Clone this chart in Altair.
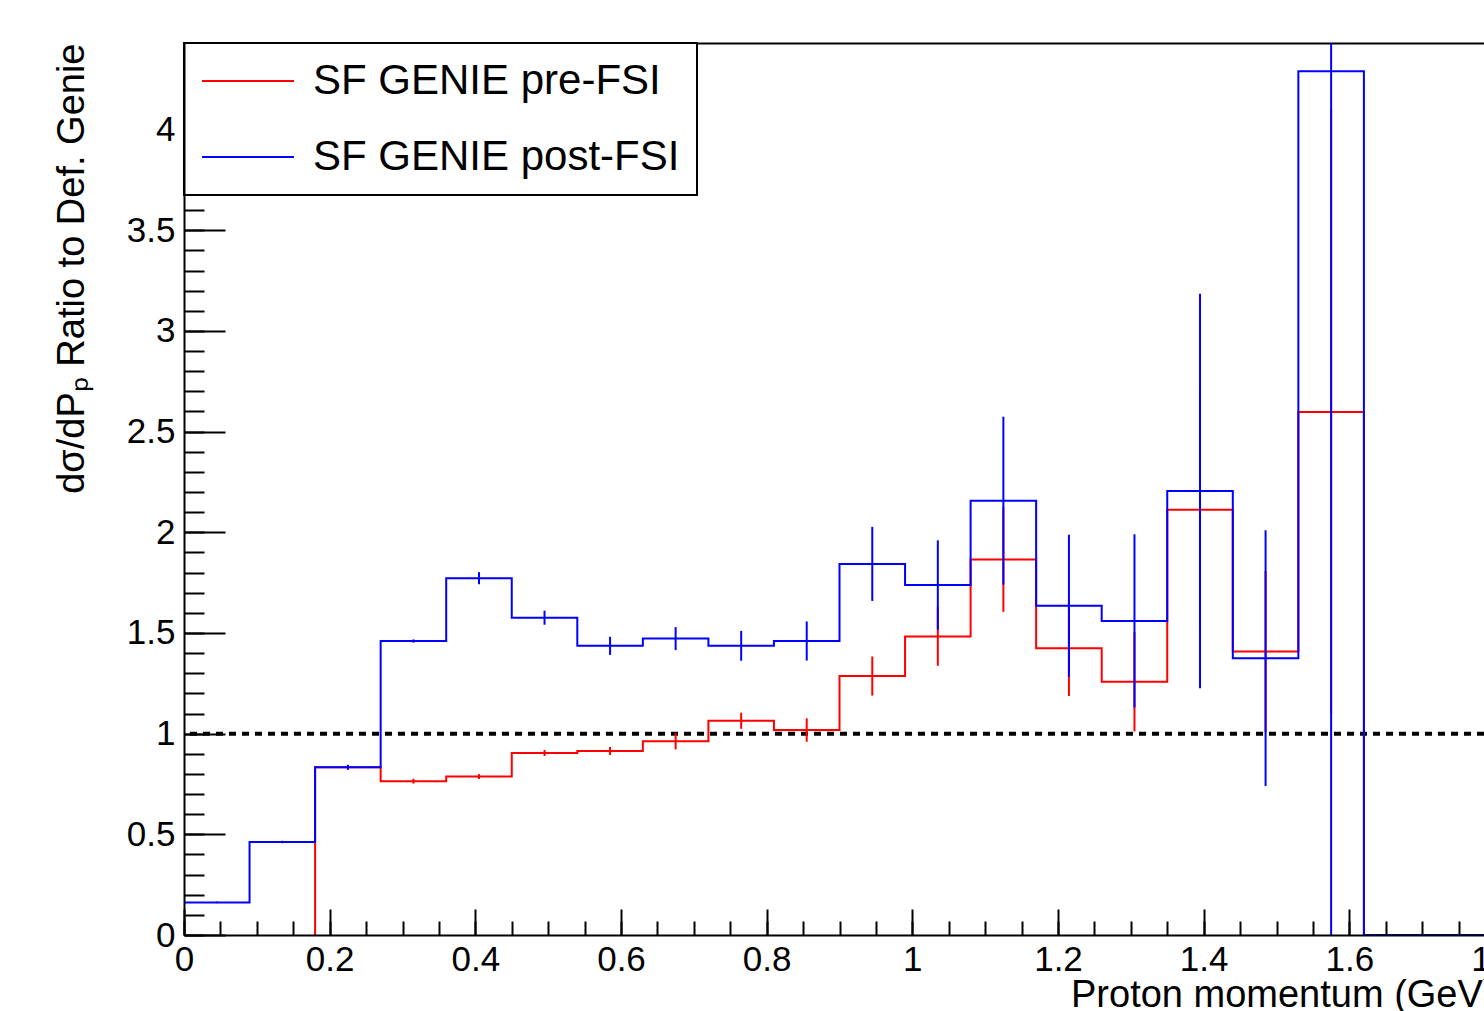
import altair as alt
import pandas as pd

# ---------------- data ----------------
bin_edges = [0.0, 0.09, 0.18, 0.27, 0.36, 0.45, 0.54, 0.63, 0.72, 0.81, 0.90,
             0.99, 1.08, 1.17, 1.26, 1.35, 1.44, 1.53, 1.62, 1.71, 1.80]

pre_fsi = [0.0, 0.0, 0.833, 0.764, 0.787, 0.904, 0.914, 0.962, 1.064, 1.018,
           1.286, 1.482, 1.865, 1.424, 1.258, 2.112, 1.408, 2.598, 0.0, 0.0]
pre_fsi_err = [0.0, 0.0, 0.012, 0.012, 0.012, 0.015, 0.02, 0.04, 0.04, 0.058,
               0.097, 0.145, 0.26, 0.237, 0.247, 0.6, 0.4, 1.5, 0.0, 0.0]

post_fsi = [0.162, 0.462, 0.833, 1.46, 1.772, 1.576, 1.436, 1.472, 1.436, 1.46,
            1.843, 1.738, 2.157, 1.635, 1.56, 2.205, 1.375, 4.29, 0.0, 0.0]
post_fsi_err = [0.004, 0.006, 0.012, 0.008, 0.03, 0.035, 0.045, 0.057, 0.074, 0.097,
                0.184, 0.222, 0.417, 0.353, 0.43, 0.98, 0.635, 4.6, 0.0, 0.0]

series_names = ["SF GENIE pre-FSI", "SF GENIE post-FSI"]
series_colors = ["#ff0000", "#0000ff"]
reference_level = [1.0]

x_major_ticks = [0, 0.2, 0.4, 0.6, 0.8, 1.0, 1.2, 1.4, 1.6, 1.8]
x_minor_ticks = [round(0.05 * i, 2) for i in range(37)]
y_major_ticks = [0, 0.5, 1.0, 1.5, 2.0, 2.5, 3.0, 3.5, 4.0]
y_minor_ticks = [round(0.1 * i, 1) for i in range(45)]

# ---------------- layout ----------------
FONT = "Liberation Sans"
W, H = 1300, 892          # visible plot area (right part of frame is cut off)
X_RANGE = 1311            # pixel length of the full 0..1.8 axis
X_DOMAIN = [0, 1.8]
Y_DOMAIN = [0, 4.43]


def step_df(vals, name):
    """Histogram outline: leading empty bins are not drawn (as in ROOT's frame),
    the outline rises from zero at the first filled bin."""
    first = next(i for i, v in enumerate(vals) if v != 0)
    xs, ys = [], []
    if first > 0:
        xs.append(bin_edges[first])
        ys.append(0.0)
    for i in range(first, len(vals)):
        xs.append(bin_edges[i])
        ys.append(vals[i])
    xs.append(bin_edges[-1])
    ys.append(vals[-1])
    return pd.DataFrame({"x": xs, "y": ys, "order": list(range(len(xs))), "series": name})


def err_df(vals, errs, name):
    centers = [(a + b) / 2 for a, b in zip(bin_edges[:-1], bin_edges[1:])]
    return pd.DataFrame({
        "x": centers,
        "lo": [v - e for v, e in zip(vals, errs)],
        "hi": [v + e for v, e in zip(vals, errs)],
        "series": name,
    })


def xscale():
    return alt.Scale(domain=X_DOMAIN, range=[0, X_RANGE], nice=False, zero=False)


def yscale():
    return alt.Scale(domain=Y_DOMAIN, nice=False, zero=False)


cscale = alt.Scale(domain=series_names, range=series_colors)

legend = alt.Legend(
    title=None, orient="none", legendX=0, legendY=0, direction="vertical",
    fillColor="white", strokeColor="black", padding=17,
    symbolType="stroke", symbolSize=8464, symbolStrokeWidth=2,
    labelFont=FONT, labelFontSize=42, labelColor="black", labelOffset=18,
    labelLimit=1000, clipHeight=42, rowPadding=34,
)

fmt = "format(datum.value, '~g')"

# axes
ax_bottom = alt.Axis(
    orient="bottom", values=x_major_ticks, ticks=False, domain=True,
    domainColor="black", domainWidth=2, labelFont=FONT, labelFontSize=35,
    labelColor="black", labelPadding=7, labelFlush=False, labelOverlap=False,
    labelExpr=fmt, grid=False, zindex=1,
    title="Proton momentum (GeV)", titleFont=FONT, titleFontSize=38,
    titleFontWeight="normal", titleColor="black", titleX=X_RANGE, titleY=71,
    titleAlign="right", titleBaseline="alphabetic",
)
ax_major = alt.Axis(orient="top", offset=-H, values=x_major_ticks, ticks=True,
                    tickSize=26, tickWidth=2, tickColor="black", domain=False,
                    labels=False, grid=False, title=None)
ax_minor = alt.Axis(orient="top", offset=-H, values=x_minor_ticks, ticks=True,
                    tickSize=14, tickWidth=2, tickColor="black", domain=False,
                    labels=False, grid=False, title=None)
ax_top = alt.Axis(orient="top", values=x_major_ticks, ticks=False, domain=True,
                  domainColor="black", domainWidth=2, labels=False, grid=False,
                  title=None)

ay_left = alt.Axis(
    orient="left", values=y_major_ticks, ticks=False, domain=True,
    domainColor="black", domainWidth=2, labelFont=FONT, labelFontSize=35,
    labelColor="black", labelPadding=9, labelOverlap=False, labelExpr=fmt,
    grid=False, zindex=1,
    title="dσ/dPₚ Ratio to Def. Genie", titleFont=FONT, titleFontSize=38,
    titleFontWeight="normal", titleColor="black", titleAngle=270,
    titleX=-101, titleY=0, titleAlign="right", titleBaseline="alphabetic",
)
ay_major = alt.Axis(orient="right", offset=-W, values=y_major_ticks, ticks=True,
                    tickSize=41, tickWidth=2, tickColor="black", domain=False,
                    labels=False, grid=False, title=None)
ay_minor = alt.Axis(orient="right", offset=-W, values=y_minor_ticks, ticks=True,
                    tickSize=20, tickWidth=2, tickColor="black", domain=False,
                    labels=False, grid=False, title=None)

# ---------------- layers ----------------
dotted = alt.Chart(pd.DataFrame({"level": reference_level})).mark_rule(
    color="black", strokeWidth=4, strokeDash=[7, 6]
).encode(y=alt.Y("level:Q", scale=yscale(), axis=None))

red_line = alt.Chart(step_df(pre_fsi, series_names[0])).mark_line(
    interpolate="step-after", strokeWidth=2
).encode(
    x=alt.X("x:Q", scale=xscale(), axis=ax_bottom),
    y=alt.Y("y:Q", scale=yscale(), axis=ay_left),
    order=alt.Order("order:Q"),
    color=alt.Color("series:N", scale=cscale, legend=legend),
)

red_err = alt.Chart(err_df(pre_fsi, pre_fsi_err, series_names[0])).mark_rule(
    color=series_colors[0], strokeWidth=2, clip=True
).encode(
    x=alt.X("x:Q", scale=xscale(), axis=ax_major),
    y=alt.Y("lo:Q", scale=yscale(), axis=ay_major),
    y2="hi:Q",
)

blue_line = alt.Chart(step_df(post_fsi, series_names[1])).mark_line(
    interpolate="step-after", strokeWidth=2
).encode(
    x=alt.X("x:Q", scale=xscale(), axis=ax_minor),
    y=alt.Y("y:Q", scale=yscale(), axis=ay_minor),
    order=alt.Order("order:Q"),
    color=alt.Color("series:N", scale=cscale, legend=legend),
)

blue_err = alt.Chart(err_df(post_fsi, post_fsi_err, series_names[1])).mark_rule(
    color=series_colors[1], strokeWidth=2, clip=True
).encode(
    x=alt.X("x:Q", scale=xscale(), axis=ax_top),
    y=alt.Y("lo:Q", scale=yscale(), axis=None),
    y2="hi:Q",
)

chart = (
    alt.layer(dotted, red_line, red_err, blue_line, blue_err)
    .resolve_axis(x="independent", y="independent")
    .properties(
        width=W, height=H,
        autosize=alt.AutoSizeParams(type="none"),
        padding={"left": 184, "top": 43, "right": 0, "bottom": 76},
        background="white",
    )
    .configure_view(stroke=None)
    .configure_legend(strokeWidth=2)
)

chart.save("out.html", embed_options={"renderer": "svg", "actions": False})
